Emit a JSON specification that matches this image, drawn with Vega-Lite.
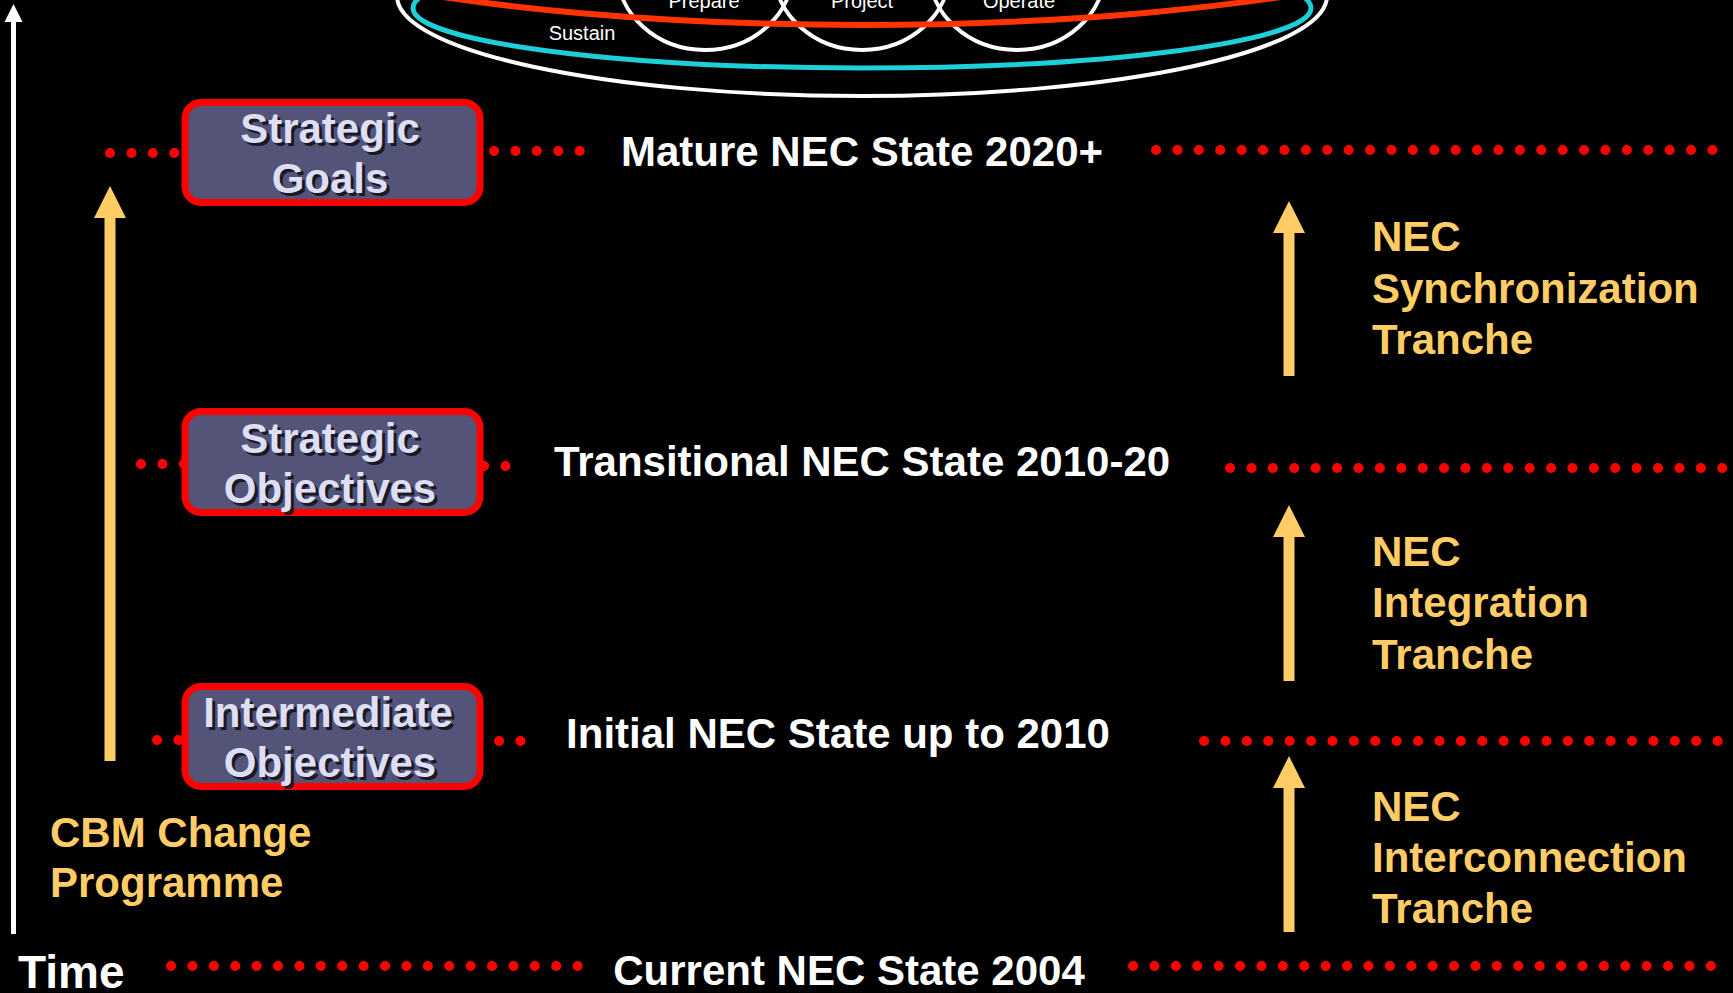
{
  "$schema": "https://vega.github.io/schema/vega-lite/v6.json",
  "width": 1733,
  "height": 993,
  "autosize": {"type": "none"},
  "padding": 0,
  "background": "#000000",
  "config": {"view": {"stroke": null}},
  "datasets": {
    "outerCycle": [{"x": 862, "y": -4}],
    "sustainCycle": [{"x": 862, "y": 8}],
    "loops": [{"x": 705, "y": -30}, {"x": 862, "y": -30}, {"x": 1017, "y": -30}],
    "redCycle": [{"x": 862, "y": -125}],
    "cycleLabels": [
      {"x": 704, "y": 8, "text": "Prepare"},
      {"x": 862, "y": 8, "text": "Project"},
      {"x": 1019, "y": 8, "text": "Operate"},
      {"x": 582, "y": 40, "text": "Sustain"}
    ],
    "dots": [
      {"x": 110, "x2": 176, "y": 153},
      {"x": 494, "x2": 581, "y": 151},
      {"x": 1156, "x2": 1713, "y": 150},
      {"x": 141, "x2": 184, "y": 464},
      {"x": 484, "x2": 507, "y": 466},
      {"x": 1230, "x2": 1724, "y": 468},
      {"x": 157, "x2": 180, "y": 740},
      {"x": 499, "x2": 522, "y": 741},
      {"x": 1204, "x2": 1718, "y": 741},
      {"x": 171, "x2": 581, "y": 966},
      {"x": 1133, "x2": 1714, "y": 966}
    ],
    "timeShaft": [{"x": 13.5, "y": 18, "y2": 934}],
    "timeHead": [{"x": 13.5, "y": 13}],
    "shafts": [
      {"x": 110, "y": 215, "y2": 761},
      {"x": 1289, "y": 231, "y2": 376},
      {"x": 1289, "y": 535, "y2": 681},
      {"x": 1289, "y": 786, "y2": 932}
    ],
    "heads": [
      {"x": 110, "y": 202},
      {"x": 1289, "y": 217},
      {"x": 1289, "y": 521},
      {"x": 1289, "y": 772}
    ],
    "boxes": [
      {"x": 185, "x2": 480, "y": 102.5, "y2": 202.5},
      {"x": 185, "x2": 480, "y": 411.5, "y2": 512.5},
      {"x": 185, "x2": 480, "y": 686.5, "y2": 786.5}
    ],
    "boxLabels": [
      {"x": 330, "y": 143, "text": "Strategic"},
      {"x": 330, "y": 193, "text": "Goals"},
      {"x": 330, "y": 453, "text": "Strategic"},
      {"x": 330, "y": 503, "text": "Objectives"},
      {"x": 328, "y": 727, "text": "Intermediate"},
      {"x": 330, "y": 777, "text": "Objectives"}
    ],
    "stateLabels": [
      {"x": 862, "y": 166, "text": "Mature NEC State 2020+"},
      {"x": 862, "y": 476, "text": "Transitional NEC State 2010-20"},
      {"x": 838, "y": 748, "text": "Initial NEC State up to 2010"},
      {"x": 849, "y": 985, "text": "Current NEC State 2004"}
    ],
    "orangeLabels": [
      {"x": 1372, "y": 251, "text": "NEC"},
      {"x": 1372, "y": 303, "text": "Synchronization"},
      {"x": 1372, "y": 354, "text": "Tranche"},
      {"x": 1372, "y": 566, "text": "NEC"},
      {"x": 1372, "y": 617, "text": "Integration"},
      {"x": 1372, "y": 669, "text": "Tranche"},
      {"x": 1372, "y": 821, "text": "NEC"},
      {"x": 1372, "y": 872, "text": "Interconnection"},
      {"x": 1372, "y": 923, "text": "Tranche"},
      {"x": 50, "y": 847, "text": "CBM Change"},
      {"x": 50, "y": 897, "text": "Programme"}
    ],
    "timeLabel": [{"x": 18, "y": 988, "text": "Time"}]
  },
  "encoding": {
    "x": {"field": "x", "type": "quantitative", "axis": null, "scale": {"domain": [0, 1733], "nice": false, "zero": false}},
    "y": {"field": "y", "type": "quantitative", "axis": null, "scale": {"domain": [0, 993], "nice": false, "zero": false, "reverse": true}}
  },
  "layer": [
    {
      "data": {"name": "outerCycle"},
      "mark": {"type": "point", "shape": "M-1,0A1,0.215 0 1,0 1,0A1,0.215 0 1,0 -1,0Z", "size": 864900, "filled": false, "stroke": "#ffffff", "strokeWidth": 4, "opacity": 1}
    },
    {
      "data": {"name": "sustainCycle"},
      "mark": {"type": "point", "shape": "M-1,0A1,0.1336 0 1,0 1,0A1,0.1336 0 1,0 -1,0Z", "size": 806404, "filled": false, "stroke": "#1ccfd8", "strokeWidth": 5, "opacity": 1}
    },
    {
      "data": {"name": "loops"},
      "mark": {"type": "point", "shape": "M-1,0A1,0.909 0 1,0 1,0A1,0.909 0 1,0 -1,0Z", "size": 30976, "filled": false, "stroke": "#ffffff", "strokeWidth": 4, "opacity": 1}
    },
    {
      "data": {"name": "redCycle"},
      "mark": {"type": "point", "shape": "M-1,0A1,0.2083 0 1,0 1,0A1,0.2083 0 1,0 -1,0Z", "size": 2073600, "filled": false, "stroke": "#ff3300", "strokeWidth": 6, "opacity": 1}
    },
    {
      "data": {"name": "cycleLabels"},
      "mark": {"type": "text", "font": "Liberation Sans", "fontSize": 20, "color": "#ffffff", "align": "center", "baseline": "alphabetic"},
      "encoding": {"text": {"field": "text"}}
    },
    {
      "data": {"name": "dots"},
      "mark": {"type": "rule", "color": "#ff0000", "strokeWidth": 10, "strokeCap": "round", "strokeDash": [0.1, 21.3]},
      "encoding": {"x2": {"field": "x2"}}
    },
    {
      "data": {"name": "timeShaft"},
      "mark": {"type": "rule", "color": "#ffffff", "strokeWidth": 5},
      "encoding": {"y2": {"field": "y2"}}
    },
    {
      "data": {"name": "timeHead"},
      "mark": {"type": "point", "shape": "M0,-1L1,1L-1,1Z", "size": 324, "filled": true, "color": "#ffffff", "opacity": 1}
    },
    {
      "data": {"name": "shafts"},
      "mark": {"type": "rule", "color": "#ffcc66", "strokeWidth": 11},
      "encoding": {"y2": {"field": "y2"}}
    },
    {
      "data": {"name": "heads"},
      "mark": {"type": "point", "shape": "M0,-1L1,1L-1,1Z", "size": 1024, "filled": true, "color": "#ffcc66", "opacity": 1}
    },
    {
      "data": {"name": "boxes"},
      "mark": {"type": "rect", "fill": "#545478", "stroke": "#ff0000", "strokeWidth": 7, "cornerRadius": 16},
      "encoding": {"x2": {"field": "x2"}, "y2": {"field": "y2"}}
    },
    {
      "data": {"name": "boxLabels"},
      "mark": {"type": "text", "font": "Liberation Sans", "fontWeight": "bold", "fontSize": 42, "color": "#1a1a24", "align": "center", "baseline": "alphabetic", "dx": 3, "dy": 3},
      "encoding": {"text": {"field": "text"}}
    },
    {
      "data": {"name": "boxLabels"},
      "mark": {"type": "text", "font": "Liberation Sans", "fontWeight": "bold", "fontSize": 42, "color": "#dedff5", "align": "center", "baseline": "alphabetic"},
      "encoding": {"text": {"field": "text"}}
    },
    {
      "data": {"name": "stateLabels"},
      "mark": {"type": "text", "font": "Liberation Sans", "fontWeight": "bold", "fontSize": 42, "color": "#ffffff", "align": "center", "baseline": "alphabetic"},
      "encoding": {"text": {"field": "text"}}
    },
    {
      "data": {"name": "orangeLabels"},
      "mark": {"type": "text", "font": "Liberation Sans", "fontWeight": "bold", "fontSize": 42, "color": "#ffcc66", "align": "left", "baseline": "alphabetic"},
      "encoding": {"text": {"field": "text"}}
    },
    {
      "data": {"name": "timeLabel"},
      "mark": {"type": "text", "font": "Liberation Sans", "fontWeight": "bold", "fontSize": 46, "color": "#ffffff", "align": "left", "baseline": "alphabetic"},
      "encoding": {"text": {"field": "text"}}
    }
  ]
}
